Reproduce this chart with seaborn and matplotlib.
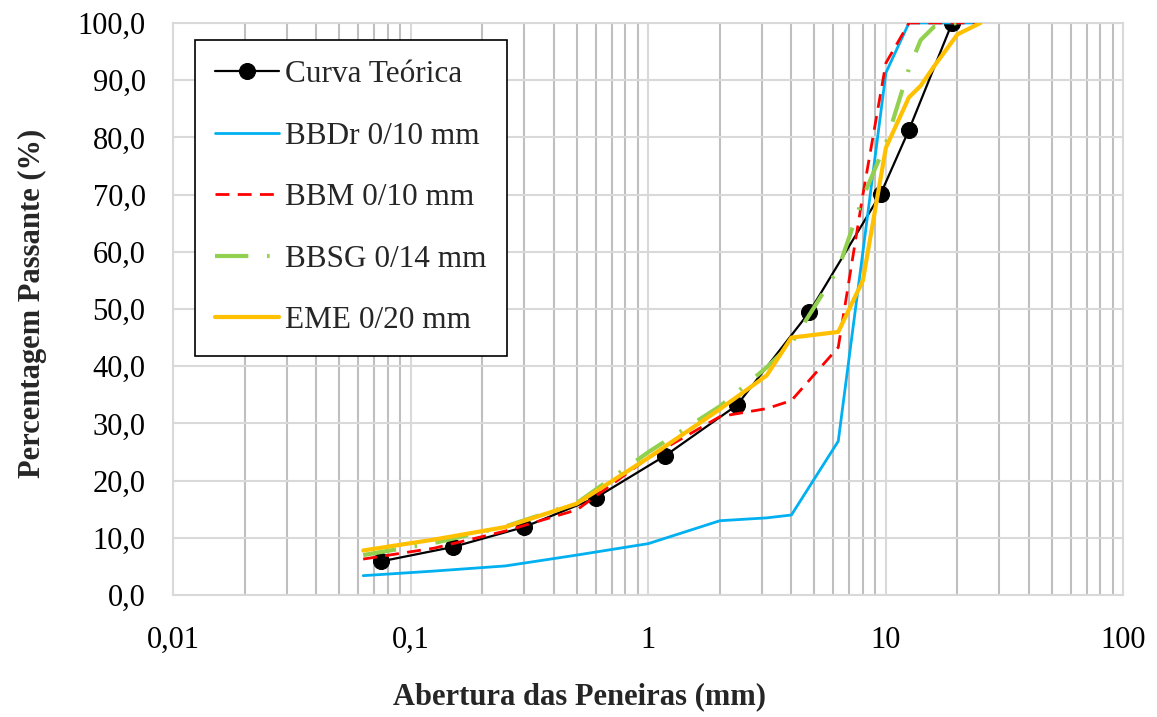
import numpy as np
import pandas as pd
import matplotlib
matplotlib.use("Agg")
import matplotlib.pyplot as plt
import matplotlib.ticker as mticker
import seaborn as sns

# theoretical curve (ASTM sieves)
teo_x = [0.075, 0.15, 0.3, 0.6, 1.18, 2.36, 4.75, 9.5, 12.5, 19]
teo_y = [5.9, 8.4, 11.9, 17.0, 24.4, 33.2, 49.4, 70.1, 81.3, 100.0]

# sieves used for the mixes
sieves = [0.063, 0.125, 0.25, 0.5, 1, 2, 3.15, 4, 6.3, 8, 10, 12.5, 14, 16, 20, 25]
bbdr = [3.4, 4.2, 5.1, 7.0, 9.0, 13.0, 13.5, 14.0, 26.9, 60.0, 91.3, 100.0, 100.0, 100.0, 100.0, 100.0]
bbm = [6.3, 8.2, 11.2, 14.9, 24.0, 31.2, 32.6, 34.0, 43.3, 70.0, 93.0, 100.0, 100.0, 100.0, 100.0, 100.0]
bbsg = [7.0, 9.1, 12.0, 16.1, 25.0, 33.0, 39.8, 44.0, 57.0, 69.5, 79.0, 92.0, 97.0, 99.4, 100.0, 100.0]
eme = [7.8, 9.7, 11.9, 16.0, 24.0, 32.5, 38.4, 45.0, 46.0, 55.0, 78.2, 87.0, 89.0, 92.5, 98.0, 100.0]

labels = ["Curva Teórica", "BBDr 0/10 mm", "BBM 0/10 mm", "BBSG 0/14 mm", "EME 0/20 mm"]
y_ticks = list(range(0, 101, 10))
x_ticks = [0.01, 0.1, 1, 10, 100]
x_tick_labels = ["0,01", "0,1", "1", "10", "100"]

sns.set_theme(style="white")
plt.rcParams["font.family"] = ["Liberation Serif", "DejaVu Serif"]

fig, ax = plt.subplots(figsize=(11.57, 7.17), dpi=100)
fig.subplots_adjust(left=0.1498, right=0.971, bottom=0.170, top=0.968)

df_teo = pd.DataFrame({"x": teo_x, "y": teo_y})
sns.lineplot(data=df_teo, x="x", y="y", ax=ax, color="black", lw=1.6,
             marker="o", markersize=11.5, markeredgecolor="black",
             estimator=None, sort=False, label=labels[0], zorder=3)

styles = [
    (bbdr, "#00B0F0", "-", 2.0),
    (bbm, "#FF0000", (0, (5, 3)), 2.0),
    (bbsg, "#92D050", (0, (8, 4.5, 0.6, 4.5)), 3.0),
    (eme, "#FFC000", "-", 3.0),
]
for (vals, col, ls, lw), lab in zip(styles, labels[1:]):
    d = pd.DataFrame({"x": sieves, "y": vals})
    sns.lineplot(data=d, x="x", y="y", ax=ax, color=col, linestyle=ls, lw=lw,
                 estimator=None, sort=False, label=lab, zorder=4)

ax.set_xscale("log")
ax.set_xlim(0.01, 100)
ax.set_ylim(0, 100)

ax.set_xticks(x_ticks)
ax.set_xticklabels(x_tick_labels)
ax.set_yticks(y_ticks)
ax.yaxis.set_major_formatter(mticker.FuncFormatter(lambda v, p: f"{v:.1f}".replace(".", ",")))
ax.xaxis.set_minor_locator(mticker.LogLocator(base=10, subs=np.arange(2, 10)))
ax.xaxis.set_minor_formatter(mticker.NullFormatter())

ax.grid(True, which="major", axis="y", color="#D9D9D9", lw=1.5)
ax.grid(True, which="major", axis="x", color="#D9D9D9", lw=1.5)
ax.grid(True, which="minor", axis="x", color="#BFBFBF", lw=1.5)
ax.set_axisbelow(True)
for s in ax.spines.values():
    s.set_color("#D9D9D9")
    s.set_linewidth(1.5)

ax.tick_params(axis="both", which="both", length=0, labelsize=22, colors="black")
ax.tick_params(axis="y", pad=20)
ax.tick_params(axis="x", pad=22)

ax.set_xlabel("Abertura das Peneiras (mm)", fontsize=22, fontweight="bold")
ax.xaxis.set_label_coords(0.428, -0.152)
ax.set_ylabel("Percentagem Passante (%)", fontsize=22, fontweight="bold", labelpad=20)
ax.yaxis.set_label_coords(-0.133, 0.51)

leg = ax.legend(loc="upper left", bbox_to_anchor=(0.0225, 0.97), fontsize=22.5,
                frameon=True, fancybox=False, edgecolor="black", framealpha=1,
                handlelength=2.05, handletextpad=0.2, labelspacing=1.04,
                borderpad=0.65, borderaxespad=0)
leg.get_frame().set_linewidth(1.2)
leg.set_zorder(5)

plt.savefig("out.png", dpi=100)
